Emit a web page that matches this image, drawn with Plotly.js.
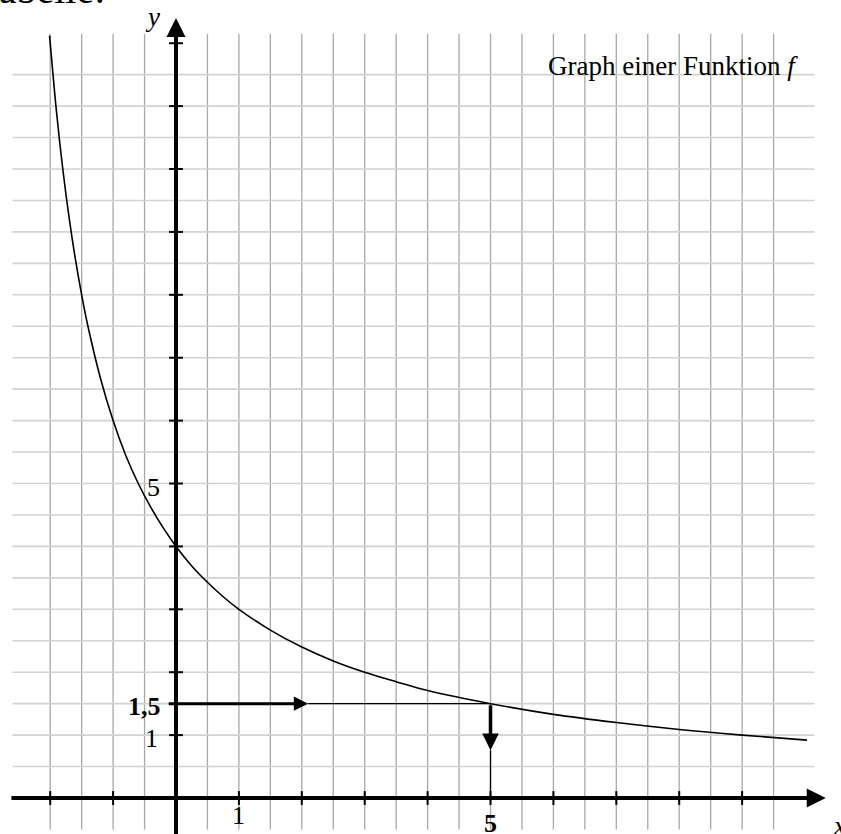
<!DOCTYPE html>
<html>
<head>
<meta charset="utf-8">
<script src="https://cdn.plot.ly/plotly-3.0.1.min.js"></script>
<style>
  body { margin: 0; background: #fff; }
  #chart { width: 841px; height: 834px; }
</style>
</head>
<body>
<div id="chart"></div>
<script>
var curveX = [-2.01, -1.9, -1.8, -1.7, -1.6, -1.5, -1.4, -1.2, -1, -0.8, -0.6, -0.4, -0.2, 0,
  0.25, 0.5, 0.75, 1, 1.5, 2, 2.5, 3, 3.5, 4, 5, 6, 7, 8, 9, 10.03];
var curveY = [12.12, 10.91, 10, 9.23, 8.57, 8, 7.5, 6.67, 6, 5.45, 5, 4.62, 4.29, 4,
  3.69, 3.43, 3.2, 3, 2.67, 2.4, 2.18, 2, 1.85, 1.71, 1.5, 1.33, 1.2, 1.09, 1, 0.92];

var xTicks = [-2, -1, 1, 2, 3, 4, 5, 6, 7, 8, 9];
var yTicks = [1, 2, 3, 4, 5, 6, 7, 8, 9, 10, 11, 12];

var xLabelVals = [1, 5];
var xLabelText = ["1", "<b>5</b>"];
var yLabelVals = [5, 1, 1.5];
var yLabelText = ["5", "1", "<b>1,5</b>"];

// reading: x = 5 gives f(x) = 1.5
var readX = 5;
var readY = 1.5;

var font = "Liberation Serif, Times New Roman, serif";
var shapes = [];
var annotations = [];

// grid
for (var gx = -2; gx <= 9.5; gx += 0.5) {
  if (gx === 0) continue;
  shapes.push({type: "line", layer: "below", x0: gx, x1: gx, y0: -0.5, y1: 12.15,
    line: {color: "#a8a8a8", width: 1.3}});
}
for (var gy = 0.5; gy <= 11.5; gy += 0.5) {
  shapes.push({type: "line", layer: "below", x0: -2.6, x1: 10.15, y0: gy, y1: gy,
    line: {color: "#d2d2d2", width: 1.6}});
}

// tick marks
xTicks.forEach(function (t) {
  shapes.push({type: "line", x0: t, x1: t, y0: -0.11, y1: 0.11, line: {color: "#000", width: 2}});
});
yTicks.forEach(function (t) {
  shapes.push({type: "line", x0: -0.11, x1: 0.11, y0: t, y1: t, line: {color: "#000", width: 2}});
});

// thin continuations of the reading arrows
shapes.push({type: "line", x0: 2.1, x1: readX, y0: readY, y1: readY, line: {color: "#000", width: 1.3}});
shapes.push({type: "line", x0: readX, x1: readX, y0: 0, y1: 0.76, line: {color: "#000", width: 1.3}});

function arrow(x0, y0, x1, y1, w, size) {
  annotations.push({xref: "x", yref: "y", axref: "x", ayref: "y", x: x1, y: y1, ax: x0, ay: y0,
    text: "", showarrow: true, arrowhead: 2, arrowwidth: w, arrowsize: size, arrowcolor: "#000"});
}
// axes
arrow(-2.64, 0, 10.33, 0, 4, 0.95);
arrow(0, -0.6, 0, 12.4, 4, 0.95);
// reading arrows
arrow(-0.14, readY, 2.1, readY, 3, 0.95);
arrow(readX, readY, readX, 0.76, 3.5, 0.95);

function label(text, x, y, xanchor, yanchor, size) {
  annotations.push({xref: "x", yref: "y", x: x, y: y, text: text, showarrow: false,
    xanchor: xanchor, yanchor: yanchor, font: {family: font, size: size, color: "#000"}});
}
xLabelVals.forEach(function (v, i) {
  label(xLabelText[i], v, i === 1 ? -0.4 : -0.27, "center", "middle", 26);
});
yLabelVals.forEach(function (v, i) {
  var yy = [4.94, 0.95, 1.45][i];
  label(yLabelText[i], [-0.22, -0.25, -0.2][i], yy, "right", "middle", 26);
});
label("<i>y</i>", -0.37, 12.42, "center", "middle", 27);
label("<i>x</i>", 10.55, -0.45, "center", "middle", 27);
label("Graph einer Funktion <i>f</i>", 5.88, 11.64, "left", "middle", 27);
label("Tabelle:", -1.1, 12.47, "right", "bottom", 40);

var trace = {
  x: curveX,
  y: curveY,
  type: "scatter",
  mode: "lines",
  line: {color: "#000", width: 1.6, shape: "spline"},
  hoverinfo: "none"
};

var layout = {
  width: 841,
  height: 834,
  margin: {l: 0, r: 0, t: 0, b: 0},
  paper_bgcolor: "#fff",
  plot_bgcolor: "#fff",
  showlegend: false,
  xaxis: {range: [-2.798, 10.572], visible: false, fixedrange: true},
  yaxis: {range: [-0.572, 12.687], visible: false, fixedrange: true},
  shapes: shapes,
  annotations: annotations
};

Plotly.newPlot("chart", [trace], layout, {staticPlot: true});
</script>
</body>
</html>
